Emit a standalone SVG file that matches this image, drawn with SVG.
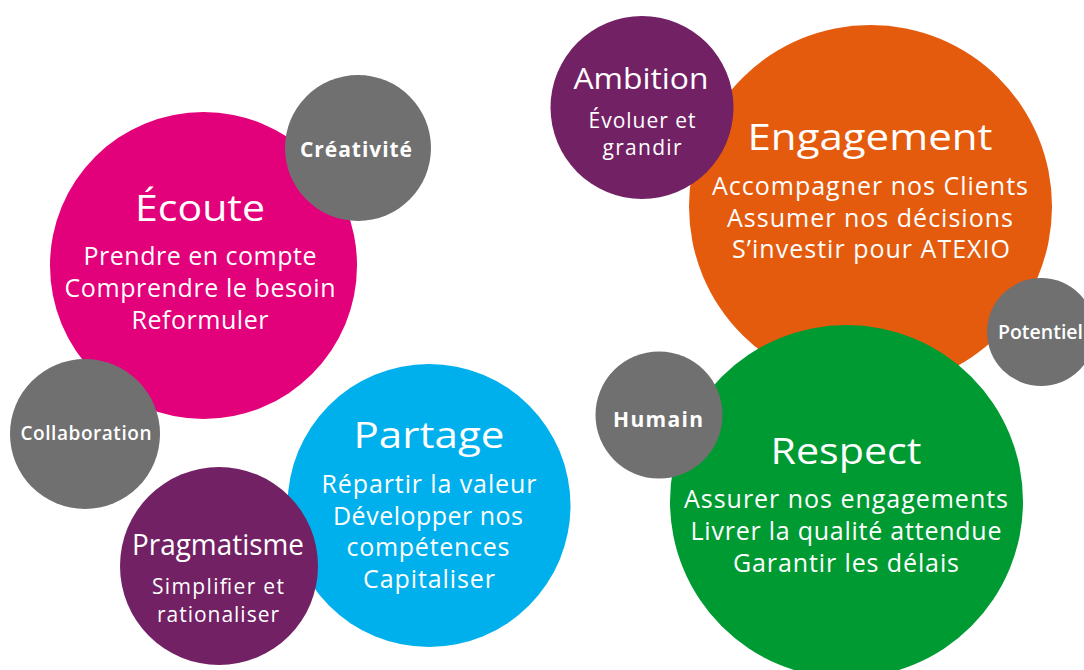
<svg xmlns="http://www.w3.org/2000/svg" width="1084" height="670" viewBox="0 0 1084 670">
<style>
text{font-family:"Open Sans","Liberation Sans",sans-serif;fill:#fff;text-anchor:middle}
.t{font-size:37px}
.tm{font-size:29px}
.s{font-size:25px}
.ss{font-size:21px}
.b{font-weight:700;font-size:21px}
.bs{font-weight:600;font-size:19px}
.pink{fill:#E3007B}.gray{fill:#707070}.blue{fill:#00B0EC}.purple{fill:#722164}.orange{fill:#E45B0E}.green{fill:#009A33}
</style>
<rect width="1084" height="670" fill="#fff"/>
<g id="connectors"/>
<g id="ecoute">
<circle class="pink" cx="203.5" cy="265.5" r="153.5"/>
<text class="t" x="200" y="221" textLength="130" lengthAdjust="spacingAndGlyphs">Écoute</text>
<text class="s" x="200" y="265" textLength="233">Prendre en compte</text>
<text class="s" x="200" y="297" textLength="271">Comprendre le besoin</text>
<text class="s" x="200" y="329" textLength="137">Reformuler</text>
</g>
<g id="creativite">
<circle class="gray" cx="358" cy="148" r="73"/>
<text class="b" x="356" y="157" textLength="112">Créativité</text>
</g>
<g id="collaboration">
<circle class="gray" cx="85" cy="434" r="75"/>
<text class="bs" x="86" y="440" textLength="131">Collaboration</text>
</g>
<g id="partage">
<circle class="blue" cx="429" cy="505.5" r="141.5"/>
<text class="t" x="429" y="448" textLength="151" lengthAdjust="spacingAndGlyphs">Partage</text>
<text class="s" x="429" y="493" textLength="215">Répartir la valeur</text>
<text class="s" x="428" y="525" textLength="190">Développer nos</text>
<text class="s" x="428" y="556" textLength="163">compétences</text>
<text class="s" x="429" y="588" textLength="132">Capitaliser</text>
</g>
<g id="pragmatisme">
<circle class="purple" cx="219" cy="566" r="99"/>
<text class="tm" x="218" y="555" textLength="172" lengthAdjust="spacingAndGlyphs">Pragmatisme</text>
<text class="ss" x="218" y="594" textLength="132">Simplifier et</text>
<text class="ss" x="218" y="622" textLength="122">rationaliser</text>
</g>
<g id="engagement">
<circle class="orange" cx="870.5" cy="206.5" r="181.5"/>
<text class="t" x="870" y="150" textLength="245" lengthAdjust="spacingAndGlyphs">Engagement</text>
<text class="s" x="870" y="195" textLength="316">Accompagner nos Clients</text>
<text class="s" x="870" y="227" textLength="286">Assumer nos décisions</text>
<text class="s" x="871" y="258" textLength="278">S’investir pour ATEXIO</text>
</g>
<g id="ambition">
<circle class="purple" cx="642" cy="107.5" r="91.5"/>
<text class="tm" x="641" y="89" textLength="135" lengthAdjust="spacingAndGlyphs">Ambition</text>
<text class="ss" x="642" y="128" textLength="107">Évoluer et</text>
<text class="ss" x="642" y="155" textLength="79">grandir</text>
</g>
<g id="potentiel">
<circle class="gray" cx="1041" cy="332" r="54"/>
<text class="bs" x="1040.5" y="339" textLength="85" lengthAdjust="spacingAndGlyphs">Potentiel</text>
</g>
<g id="respect">
<circle class="green" cx="846.5" cy="501.5" r="176.5"/>
<text class="t" x="846" y="464" textLength="151" lengthAdjust="spacingAndGlyphs">Respect</text>
<text class="s" x="846" y="508" textLength="324">Assurer nos engagements</text>
<text class="s" x="846" y="540" textLength="311">Livrer la qualité attendue</text>
<text class="s" x="846" y="572" textLength="226">Garantir les délais</text>
</g>
<g id="humain">
<circle class="gray" cx="659" cy="415" r="63.5"/>
<text class="b" x="658" y="427" textLength="90">Humain</text>
</g>
</svg>
